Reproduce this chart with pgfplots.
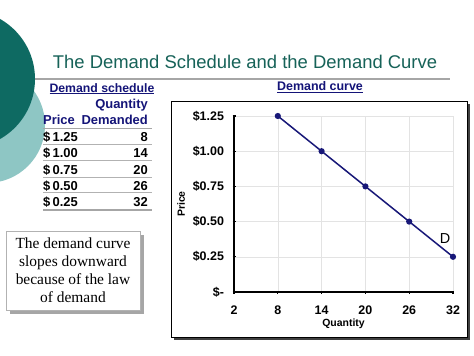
\documentclass[border=0pt]{standalone}
\usepackage{pgfplots}
\pgfplotsset{compat=1.18}
\usepackage{fontspec}
\setmainfont{Liberation Sans}
\newfontfamily\seriffont{Liberation Serif}
\definecolor{tealdark}{RGB}{14,106,98}
\definecolor{teallight}{RGB}{142,198,196}
\definecolor{titleteal}{RGB}{22,98,88}
\definecolor{navy}{RGB}{24,24,120}
\definecolor{hdr}{RGB}{20,20,120}
\begin{document}
\begin{tikzpicture}[x=1bp,y=1bp]
\clip (0,0) rectangle (474,355);
\fill[white] (0,0) rectangle (474,355);
% title rule
\draw[gray!70, line width=1.2bp] (30,276) -- (450,276);
% decorative circles
\fill[teallight] (-13,230) circle (58);
\fill[tealdark] (-34,276) circle (69);
% title
\node[anchor=base, text=titleteal, font=\fontsize{18.5}{20}\selectfont, inner sep=0] at (245,287) {The Demand Schedule and the Demand Curve};
% table
\begin{scope}[every node/.style={inner sep=0, font=\bfseries\fontsize{13}{15}\selectfont}]
\node[anchor=base, text=hdr, font=\bfseries\fontsize{12.3}{15}\selectfont] at (102,263) {\underline{Demand schedule}};
\node[anchor=base east, text=hdr] at (148,247) {Quantity};
\node[anchor=base west, text=hdr] at (43,231) {Price};
\node[anchor=base east, text=hdr] at (148,231) {Demanded};
\draw[gray!70, line width=1bp] (43,227) -- (152,227);
\node[anchor=base west] at (43,214) {\$\,1.25};
\node[anchor=base east] at (148,214) {8};
\draw[gray!60, line width=0.8bp] (43,211) -- (152,211);
\node[anchor=base west] at (43,198) {\$\,1.00};
\node[anchor=base east] at (148,198) {14};
\draw[gray!60, line width=0.8bp] (43,195) -- (152,195);
\node[anchor=base west] at (43,181) {\$\,0.75};
\node[anchor=base east] at (148,181) {20};
\draw[gray!60, line width=0.8bp] (43,178) -- (152,178);
\node[anchor=base west] at (43,165) {\$\,0.50};
\node[anchor=base east] at (148,165) {26};
\draw[gray!60, line width=0.8bp] (43,163) -- (152,163);
\node[anchor=base west] at (43,149) {\$\,0.25};
\node[anchor=base east] at (148,149) {32};
\draw[gray!70, line width=1.4bp] (43,145) -- (152,145);
\end{scope}
% text box
\fill[gray!70] (10,41) rectangle (144,120);
\draw[gray!60, fill=white] (6,45) rectangle (140,124);
\node[align=center, font=\seriffont\fontsize{15.5}{18}\selectfont, inner sep=0] at (73,84.5) {The demand curve\\slopes downward\\because of the law\\of demand};
% chart box
\fill[black!75] (174,15) rectangle (470,251);
\draw[black, fill=white, line width=0.6bp] (171,18) rectangle (467,254);
\node[text=hdr, font=\bfseries\fontsize{12.5}{14}\selectfont, inner sep=0] at (320,268) {\underline{Demand curve}};
\begin{axis}[
  at={(234bp,63bp)}, anchor=south west, scale only axis,
  width=219bp, height=176bp,
  xmin=2, xmax=32, ymin=0, ymax=1.25,
  clip=false,
  axis lines=left,
  axis line style={-, line width=1.6bp, black},
  xtick={2,8,14,20,26,32},
  xticklabels={2,8,14,20,26,32},
  ytick={0,0.25,0.5,0.75,1,1.25},
  yticklabels={\$-,\$0.25,\$0.50,\$0.75,\$1.00,\$1.25},
  tick label style={font=\bfseries\fontsize{12.5}{14}\selectfont, black},
  xticklabel style={yshift=-8bp, text height=9bp, text depth=0bp},
  yticklabel style={xshift=-5bp},
  tick style={black, line width=1.2bp},
  major tick length=3bp,
  tick align=center,
  grid=major,
  grid style={gray!22, line width=0.6bp},
  xlabel={Quantity},
  ylabel={Price},
  xlabel style={font=\bfseries\fontsize{10.5}{12}\selectfont, yshift=2bp},
  ylabel style={font=\bfseries\fontsize{10.5}{12}\selectfont, yshift=1bp},
]
\addplot[navy, line width=1.5bp, mark=*, mark size=2.3bp, mark options={fill=navy}] coordinates {(8,1.25) (14,1.00) (20,0.75) (26,0.50) (32,0.25)};
\node[font=\fontsize{14.5}{16}\selectfont] at (axis cs:30.9,0.38) {D};
\end{axis}
\end{tikzpicture}
\end{document}
